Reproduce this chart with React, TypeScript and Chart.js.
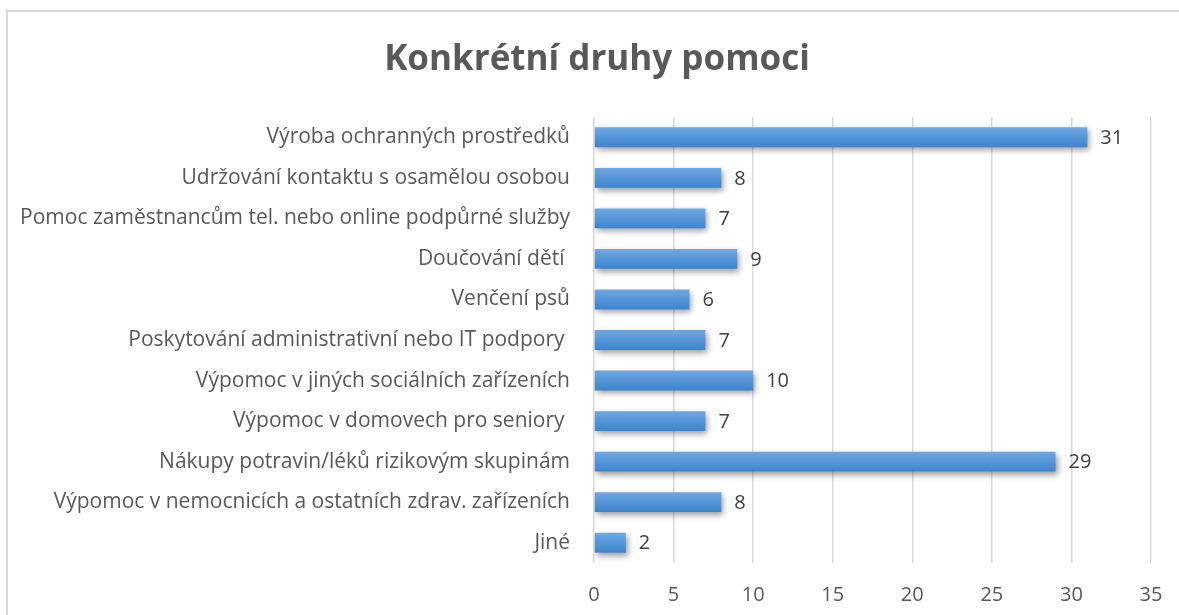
import React, { useEffect, useRef } from "react";
import { Chart, registerables } from "chart.js";

Chart.register(...registerables);

const categories = [
  "Výroba ochranných prostředků",
  "Udržování kontaktu s osamělou osobou",
  "Pomoc zaměstnancům tel. nebo online podpůrné služby",
  "Doučování dětí ",
  "Venčení psů",
  "Poskytování administrativní nebo IT podpory ",
  "Výpomoc v jiných sociálních zařízeních",
  "Výpomoc v domovech pro seniory ",
  "Nákupy potravin/léků rizikovým skupinám",
  "Výpomoc v nemocnicích a ostatních zdrav. zařízeních",
  "Jiné",
];
const values = [31, 8, 7, 9, 6, 7, 10, 7, 29, 8, 2];
const xTicks = [0, 5, 10, 15, 20, 25, 30, 35];
const title = "Konkrétní druhy pomoci";

const FONT = "'Open Sans', sans-serif";
const TEXT = "#595959";

const PLOT_LEFT = 594;
const PLOT_RIGHT = 1151;
const PLOT_TOP = 117;
const PLOT_BOTTOM = 563;
const W = 1179;
const H = 615;

export default function App() {
  const ref = useRef<HTMLCanvasElement>(null);
  useEffect(() => {
    const canvas = ref.current!;
    const shadowPlugin = {
      id: "barShadow",
      beforeDatasetsDraw(chart: any) {
        const c = chart.ctx;
        c.save();
        c.shadowColor = "rgba(0,0,0,0.38)";
        c.shadowBlur = 6;
        c.shadowOffsetX = 2;
        c.shadowOffsetY = 3;
      },
      afterDatasetsDraw(chart: any) {
        chart.ctx.restore();
        const c = chart.ctx;
        const meta = chart.getDatasetMeta(0);
        c.save();
        c.font = `20px ${FONT}`;
        c.fillStyle = "#404040";
        c.textAlign = "left";
        c.textBaseline = "middle";
        meta.data.forEach((el: any, i: number) => {
          c.fillText(String(values[i]), el.x + 13, el.y + 1);
        });
        c.restore();
      },
    };
    const titlePlugin = {
      id: "customTitle",
      afterDraw(chart: any) {
        const c = chart.ctx;
        c.save();
        c.font = `bold 35px ${FONT}`;
        c.fillStyle = TEXT;
        c.textAlign = "center";
        c.textBaseline = "middle";
        c.fillText(title, 597, 60);
        c.restore();
      },
    };
    const chart = new Chart(canvas, {
      type: "bar",
      data: {
        labels: categories,
        datasets: [
          {
            data: values,
            backgroundColor: (ctx: any) => {
              const chart = ctx.chart;
              const y = chart.scales?.y;
              if (!chart.chartArea || !y || ctx.dataIndex === undefined) return "#4a8fd6";
              const cy = y.getPixelForValue(ctx.dataIndex);
              const g = chart.ctx.createLinearGradient(0, cy - 10, 0, cy + 10);
              g.addColorStop(0, "#6ea8e2");
              g.addColorStop(1, "#3d84cc");
              return g;
            },
            borderWidth: 0,
            barPercentage: 0.98,
            categoryPercentage: 0.5,
          },
        ],
      },
      options: {
        indexAxis: "y",
        animation: false,
        responsive: false,
        devicePixelRatio: 1,
        layout: {
          padding: { left: 0, right: W - PLOT_RIGHT, top: PLOT_TOP, bottom: 0 },
        },
        plugins: {
          legend: { display: false },
          title: { display: false },
          tooltip: { enabled: false },
        },
        scales: {
          x: {
            min: 0,
            max: 35,
            afterBuildTicks: (s: any) => {
              s.ticks = xTicks.map((v) => ({ value: v }));
            },
            afterFit: (s: any) => {
              s.height = H - PLOT_BOTTOM;
              s.paddingLeft = 0;
              s.paddingRight = 0;
            },
            grid: { color: "#d9d9d9", lineWidth: 1.5, drawTicks: false },
            border: { display: false },
            ticks: {
              color: TEXT,
              font: { family: FONT, size: 20 },
              padding: 20,
            },
          },
          y: {
            afterFit: (s: any) => {
              s.width = PLOT_LEFT;
              s.paddingTop = 0;
              s.paddingBottom = 0;
            },
            grid: { display: false },
            border: { display: false },
            ticks: {
              color: TEXT,
              font: { family: FONT, size: 21 },
              padding: 16,
              autoSkip: false,
            },
          },
        },
      },
      plugins: [shadowPlugin, titlePlugin],
    } as any);
    return () => chart.destroy();
  }, []);
  return (
    <div style={{ position: "absolute", left: 0, top: 0, width: W, height: H, background: "#fff", overflow: "hidden" }}>
      <div
        style={{
          position: "absolute",
          left: 6,
          top: 10,
          width: W + 20,
          height: H + 20,
          borderLeft: "2px solid #d9d9d9",
          borderTop: "2px solid #d9d9d9",
        }}
      />
      <canvas ref={ref} width={W} height={H} style={{ position: "absolute", left: 0, top: 0 }} />
    </div>
  );
}
